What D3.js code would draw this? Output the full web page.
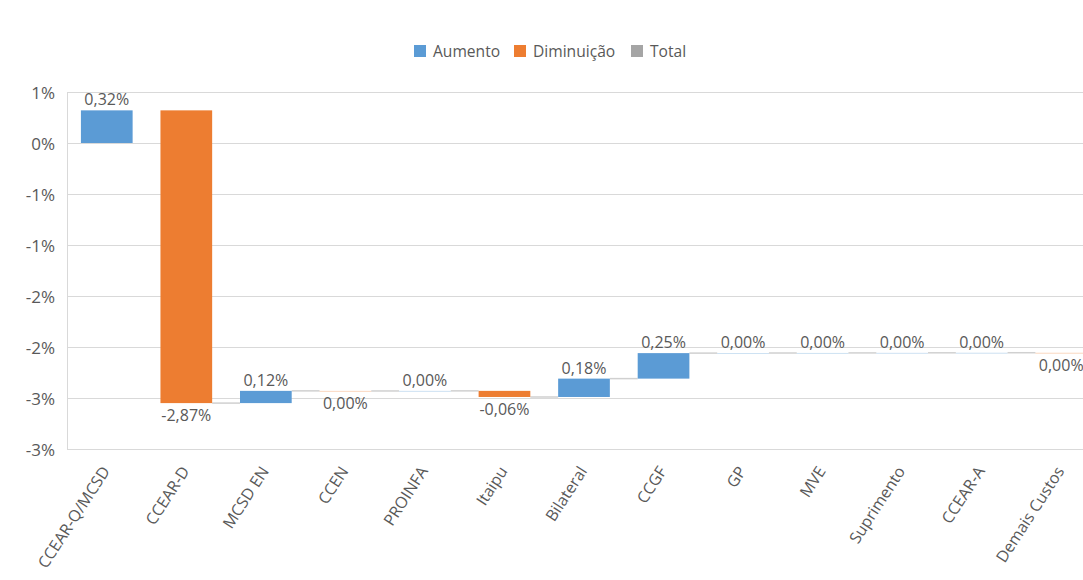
<!DOCTYPE html>
<html>
<head>
<meta charset="utf-8">
<script src="https://cdn.jsdelivr.net/npm/d3@7"></script>
<style>
  html, body { margin: 0; padding: 0; background: #fff; }
  svg { display: block; font-family: "Open Sans", "Noto Sans", sans-serif; }
</style>
</head>
<body>
<svg id="chart" width="1083" height="580"></svg>
<script>
// Componentes da variação (% pontos)
const categories = ["CCEAR-Q/MCSD", "CCEAR-D", "MCSD EN", "CCEN", "PROINFA", "Itaipu",
  "Bilateral", "CCGF", "GP", "MVE", "Suprimento", "CCEAR-A", "Demais Custos"];
const values = [0.32, -2.87, 0.12, -0.001, 0.001, -0.06, 0.18, 0.25, 0.001, 0.001, 0.001, 0.001, -0.001];
const yTicks = [0.5, 0, -0.5, -1.0, -1.5, -2.0, -2.5, -3.0];
const legendItems = ["Aumento", "Diminuição", "Total"];
const legendColors = ["#5B9BD5", "#ED7D31", "#A5A5A5"];

const svg = d3.select("#chart");
const textColor = "#595959";
const gridColor = "#D9D9D9";

const x = d3.scaleBand()
  .domain(categories)
  .range([67, 1101])
  .paddingInner(0.35)
  .paddingOuter(0.175);

const y = d3.scaleLinear().domain([-3.0, 0.5]).range([449, 92]);

// Running totals for the floating bars
let running = 0;
const steps = categories.map((c, i) => {
  const start = running;
  running += values[i];
  return { cat: c, value: values[i], start, end: running };
});

// Integer percent rounding (half away from zero)
const tickFmt = v => {
  const r = Math.sign(v) * Math.round(Math.abs(v));
  return (r === 0 ? 0 : r) + "%";
};
const valFmt = v => {
  let r = Math.round(v * 100) / 100;
  if (Math.abs(r) < 0.005) r = 0;
  return r.toFixed(2).replace(".", ",") + "%";
};

// Gridlines
svg.append("g")
  .selectAll("line")
  .data(yTicks)
  .join("line")
  .attr("x1", 67).attr("x2", 1101)
  .attr("y1", d => Math.round(y(d)) + 0.5).attr("y2", d => Math.round(y(d)) + 0.5)
  .attr("stroke", gridColor).attr("stroke-width", 1);

// Left axis line
svg.append("line")
  .attr("x1", 67.5).attr("x2", 67.5)
  .attr("y1", y(0.5)).attr("y2", y(-3.0))
  .attr("stroke", gridColor);

// Y axis labels
const yAxis = d3.axisLeft(y).tickValues(yTicks).tickFormat(tickFmt).tickSize(0).tickPadding(12);
const gy = svg.append("g").attr("transform", "translate(67,1)").call(yAxis);
gy.select(".domain").remove();
gy.selectAll("text")
  .attr("fill", textColor)
  .style("font-size", "17px")
  .style("font-family", "'Open Sans', 'Noto Sans', sans-serif");

// Connectors between bars
svg.append("g")
  .selectAll("line")
  .data(steps.slice(1, -1))
  .join("line")
  .attr("x1", d => x(d.cat) + x.bandwidth())
  .attr("x2", (d, i) => x(categories[i + 2]))
  .attr("y1", d => y(d.end)).attr("y2", d => y(d.end))
  .attr("stroke", "#D0D0D0").attr("stroke-width", 1.5);

// Bars
svg.append("g")
  .selectAll("rect")
  .data(steps)
  .join("rect")
  .attr("x", d => x(d.cat))
  .attr("width", x.bandwidth())
  .attr("y", d => y(Math.max(d.start, d.end)))
  .attr("height", d => Math.max(1, Math.abs(y(d.start) - y(d.end))))
  .attr("fill", d => d.value >= 0 ? legendColors[0] : legendColors[1])
  .attr("fill-opacity", d => Math.abs(d.value) < 0.005 ? 0.3 : 1);

// Value labels
svg.append("g")
  .selectAll("text")
  .data(steps)
  .join("text")
  .attr("x", d => x(d.cat) + x.bandwidth() / 2)
  .attr("y", d => d.value >= 0 ? y(d.end) - 5 : y(d.end) + 18)
  .attr("text-anchor", "middle")
  .attr("fill", textColor)
  .style("font-size", "16px")
  .text(d => valFmt(d.value));

// Bottom axis line
svg.append("line")
  .attr("x1", 67).attr("x2", 1101)
  .attr("y1", 449.5).attr("y2", 449.5)
  .attr("stroke", gridColor);

// Category labels, rotated
svg.append("g")
  .selectAll("text")
  .data(categories)
  .join("text")
  .attr("transform", d => `translate(${x(d) + x.bandwidth() / 2 - 1},${468}) rotate(-57)`)
  .attr("text-anchor", "end")
  .attr("dy", "0.35em")
  .attr("fill", textColor)
  .style("font-size", "16px")
  .text(d => d);

// Legend
const legendX = [414, 514, 631];
const lg = svg.append("g");
legendItems.forEach((name, i) => {
  lg.append("rect")
    .attr("x", legendX[i]).attr("y", 45)
    .attr("width", 12).attr("height", 12)
    .attr("fill", legendColors[i]);
  lg.append("text")
    .attr("x", legendX[i] + 19).attr("y", 57)
    .attr("fill", textColor)
    .style("font-size", "15.6px")
    .text(name);
});
</script>
</body>
</html>
